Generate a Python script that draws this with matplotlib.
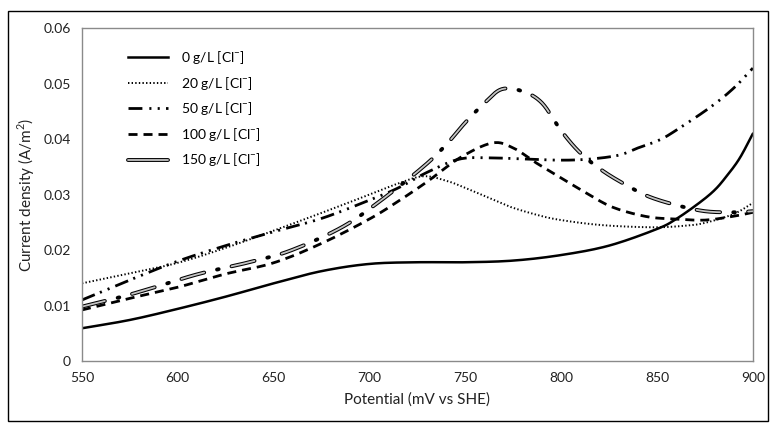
#!/usr/bin/env python3

import numpy as np
import matplotlib.pyplot as plt
from matplotlib.lines import Line2D
from matplotlib.patches import Rectangle

plt.rcParams['font.family'] = ['Lato', 'DejaVu Sans']
plt.rcParams['lines.scale_dashes'] = False

# potential (mV vs SHE) and current density (A/m2) for each chloride level
pot_0 = [550, 575, 600, 625, 650, 675, 700, 725, 750, 775, 800, 825, 850, 860, 872, 880,
         886, 893, 900]
cd_0 = [0.0059, 0.0074, 0.0094, 0.0116, 0.0140, 0.0162, 0.0175, 0.0178, 0.0178, 0.0181,
        0.0191, 0.0208, 0.0238, 0.0256, 0.0285, 0.0308, 0.0332, 0.0365, 0.0410]

pot_20 = [550, 575, 600, 625, 650, 675, 700, 715, 728, 740, 750, 765, 775, 790, 800, 815,
          830, 850, 865, 875, 890, 900]
cd_20 = [0.0140, 0.0158, 0.0177, 0.0204, 0.0235, 0.0267, 0.0300, 0.0320, 0.0333, 0.0325,
         0.0312, 0.0290, 0.0276, 0.0261, 0.0254, 0.0247, 0.0243, 0.0241, 0.0244, 0.0249,
         0.0265, 0.0285]

pot_50 = [550, 575, 600, 625, 650, 675, 700, 715, 730, 747, 764, 782, 800, 815, 830, 840,
          851, 860, 878, 890, 900]
cd_50 = [0.0110, 0.0146, 0.0180, 0.0208, 0.0233, 0.0257, 0.0290, 0.0312, 0.0340, 0.0364,
         0.0366, 0.0364, 0.0362, 0.0364, 0.0371, 0.0384, 0.0398, 0.0416, 0.0458, 0.0492,
         0.0528]

pot_100 = [550, 575, 600, 625, 650, 675, 700, 715, 730, 747, 764, 775, 787, 800, 813, 827,
           845, 860, 875, 890, 900]
cd_100 = [0.0092, 0.0113, 0.0133, 0.0157, 0.0177, 0.0212, 0.0256, 0.0288, 0.0323, 0.0366,
          0.0393, 0.0384, 0.0357, 0.0330, 0.0303, 0.0277, 0.0260, 0.0256, 0.0254, 0.0261,
          0.0268]

pot_150 = [550, 570, 588, 611, 636, 658, 685, 705, 728, 740, 750, 760, 769, 780, 790, 800,
           810, 822, 835, 846, 860, 875, 890, 900]
cd_150 = [0.0098, 0.0115, 0.0133, 0.0157, 0.0177, 0.0198, 0.0240, 0.0287, 0.0350, 0.0390,
          0.0430, 0.0465, 0.0490, 0.0486, 0.0465, 0.0415, 0.0375, 0.0342, 0.0315, 0.0296,
          0.0281, 0.0270, 0.0268, 0.0270]

labels = ['0 g/L [Cl$^{\\mathregular{-}}$]', '20 g/L [Cl$^{\\mathregular{-}}$]',
          '50 g/L [Cl$^{\\mathregular{-}}$]', '100 g/L [Cl$^{\\mathregular{-}}$]',
          '150 g/L [Cl$^{\\mathregular{-}}$]']


def smooth(x, y, n=16):
    """Catmull-Rom curve through the points (like a smoothed spreadsheet line)."""
    x = np.asarray(x, float)
    y = np.asarray(y, float)
    px = np.concatenate([[2 * x[0] - x[1]], x, [2 * x[-1] - x[-2]]])
    py = np.concatenate([[2 * y[0] - y[1]], y, [2 * y[-1] - y[-2]]])
    t = np.linspace(0, 1, n, endpoint=False)[:, None]
    xs, ys = [], []
    for arr, out in ((px, xs), (py, ys)):
        p0, p1, p2, p3 = arr[:-3], arr[1:-2], arr[2:-1], arr[3:]
        seg = 0.5 * (2 * p1 + (p2 - p0) * t + (2 * p0 - 5 * p1 + 4 * p2 - p3) * t ** 2
                     + (3 * p1 - p0 - 3 * p2 + p3) * t ** 3)
        out.extend(seg.T.ravel())
        out.append(arr[-2])
    return np.array(xs), np.array(ys)


fig = plt.figure(figsize=(7.73, 4.24), dpi=100)
ax = fig.add_axes([0.106, 0.1486, 0.868, 0.785])

# frame around whole figure
fig.patches.append(Rectangle((0.0104, 0.008), 0.983, 0.966, transform=fig.transFigure,
                             fill=False, edgecolor='black', linewidth=1.0))

ax.plot(*smooth(pot_0, cd_0), color='black', lw=1.8, solid_capstyle='round')
ax.plot(*smooth(pot_20, cd_20), color='black', lw=1.4, dashes=[1.0, 1.6])
ax.plot(*smooth(pot_50, cd_50), color='black', lw=2.0, dashes=[10, 4, 1.5, 4.5, 1.5, 4.5])
ax.plot(*smooth(pot_100, cd_100), color='black', lw=2.0, dashes=[6.5, 4.3])

# 150 g/L: outlined grey dashes with a dot in between
x150, y150 = smooth(pot_150, cd_150)
ax.plot(x150, y150, color='black', lw=2.8, dashes=[17, 9.5, 1.2, 9.5],
        dash_capstyle='round')
ax.plot(x150, y150, color='#c4c4c4', lw=1.3, dashes=[17, 20.2],
        dash_capstyle='round')

ax.set_xlim(550, 900)
ax.set_ylim(0, 0.06)
ax.set_xticks(np.arange(550, 901, 50))
ax.set_yticks([0, 0.01, 0.02, 0.03, 0.04, 0.05, 0.06])
ax.set_yticklabels(['0', '0.01', '0.02', '0.03', '0.04', '0.05', '0.06'])
ax.tick_params(length=0, labelsize=10, labelcolor='#222222', pad=8)
for s in ax.spines.values():
    s.set_color('#8a8a8a')
    s.set_linewidth(1.0)

ax.set_xlabel('Potential (mV vs SHE)', fontsize=11, color='#222222', labelpad=6)
ax.set_ylabel('Current density (A/m$^{\\mathregular{2}}$)', fontsize=11, color='#222222',
              labelpad=5)

handles = [
    Line2D([], [], color='black', lw=1.8),
    Line2D([], [], color='black', lw=1.4, dashes=[1.0, 1.6]),
    Line2D([], [], color='black', lw=2.0, dashes=[10, 5, 1.5, 4.5, 1.5, 4.5]),
    Line2D([], [], color='black', lw=2.0, dashes=[6.5, 4.3]),
    (Line2D([], [], color='black', lw=2.8, solid_capstyle='round'),
     Line2D([], [], color='#c4c4c4', lw=1.3, solid_capstyle='round')),
]
ax.legend(handles, labels, loc='upper left', bbox_to_anchor=(0.05, 0.975), frameon=False,
          fontsize=10, handlelength=2.9, handletextpad=0.9, labelspacing=0.62)

plt.savefig('out.png', dpi=100)
